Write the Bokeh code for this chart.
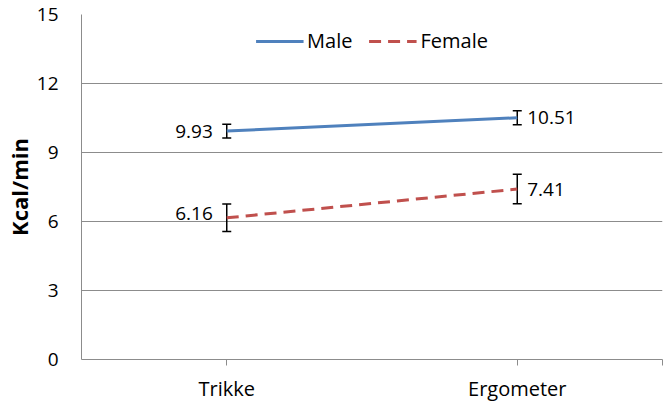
from bokeh.plotting import figure
from bokeh.models import ColumnDataSource, FixedTicker, Whisker, TeeHead, Legend, LegendItem
from bokeh.embed import file_html
from bokeh.resources import INLINE

categories = ["Trikke", "Ergometer"]
male = [9.93, 10.51]
female = [6.16, 7.41]
male_err = [0.3, 0.3]
female_err = [0.6, 0.64]
y_ticks = [0, 3, 6, 9, 12, 15]
y_label = "Kcal/min"

FONT = "Open Sans"
BLUE = "#4F81BD"
RED = "#C0504D"
GRID = "#8c8c8c"

xpos = [i + 0.5 for i in range(len(categories))]

p = figure(width=664, height=404, output_backend="svg", toolbar_location=None,
           x_range=(0, len(categories)), y_range=(y_ticks[0], y_ticks[-1]),
           min_border_left=74, min_border_right=2, min_border_top=14, min_border_bottom=30)
p.outline_line_color = None
p.background_fill_color = "white"
p.border_fill_color = "white"

# axes
p.yaxis.ticker = FixedTicker(ticks=y_ticks)
p.yaxis.major_tick_out = 0
p.yaxis.major_tick_in = 0
p.yaxis.minor_tick_line_color = None
p.yaxis.axis_line_color = GRID
p.yaxis.major_label_standoff = 23
p.yaxis.major_label_text_font = FONT
p.yaxis.major_label_text_font_size = "19px"
p.yaxis.major_label_text_color = "#000000"
p.yaxis.axis_label = y_label
p.yaxis.axis_label_text_font = FONT
p.yaxis.axis_label_text_font_size = "22px"
p.yaxis.axis_label_text_font_style = "bold"
p.yaxis.axis_label_text_color = "#000000"
p.yaxis.axis_label_standoff = 0

overrides = {x: c for x, c in zip(xpos, categories)}
overrides[float(len(categories))] = ""
p.xaxis.ticker = FixedTicker(ticks=xpos + [float(len(categories))])
p.xaxis.major_label_overrides = overrides
p.xaxis.major_tick_out = 6
p.xaxis.major_tick_in = 0
p.xaxis.major_tick_line_color = GRID
p.xaxis.minor_tick_line_color = None
p.xaxis.axis_line_color = GRID
p.xaxis.major_label_standoff = 9
p.xaxis.major_label_text_font = FONT
p.xaxis.major_label_text_font_size = "20px"
p.xaxis.major_label_text_color = "#000000"

p.xgrid.grid_line_color = None
p.ygrid.ticker = FixedTicker(ticks=y_ticks)
p.ygrid.grid_line_color = GRID
p.ygrid.grid_line_width = 1

src = ColumnDataSource(dict(
    x=xpos, male=male, female=female,
    m_lo=[v - e for v, e in zip(male, male_err)], m_hi=[v + e for v, e in zip(male, male_err)],
    f_lo=[v - e for v, e in zip(female, female_err)], f_hi=[v + e for v, e in zip(female, female_err)],
    m_txt=[f"{v:.2f}" for v in male], f_txt=[f"{v:.2f}" for v in female],
))

rm = p.line("x", "male", source=src, line_color=BLUE, line_width=3)
rf = p.line("x", "female", source=src, line_color=RED, line_width=3, line_dash="12 7")

for lo, hi in (("m_lo", "m_hi"), ("f_lo", "f_hi")):
    w = Whisker(source=src, base="x", lower=lo, upper=hi, line_color="black", line_width=1.5,
                upper_head=TeeHead(size=9, line_color="black", line_width=1.5),
                lower_head=TeeHead(size=9, line_color="black", line_width=1.5))
    p.add_layout(w)

# data labels
for i in range(len(categories)):
    left = (i == 0)
    for col, tcol, dy in (("male", "m_txt", 0), ("female", "f_txt", 4 if left else 0)):
        sub = ColumnDataSource(dict(x=[xpos[i]], y=[src.data[col][i]], t=[src.data[tcol][i]]))
        p.text("x", "y", text="t", source=sub,
               text_align="right" if left else "left", text_baseline="middle",
               x_offset=-14 if left else 10, y_offset=-dy,
               text_font={"value": FONT}, text_font_size="19px", text_color="#000000")

legend = Legend(items=[LegendItem(label="Male", renderers=[rm]),
                       LegendItem(label="Female", renderers=[rf])],
                location="top_center", orientation="horizontal")
legend.glyph_width = 48
legend.label_standoff = 4
legend.spacing = 16
legend.padding = 10
legend.margin = 13
legend.border_line_color = None
legend.background_fill_alpha = 0
legend.label_text_font = FONT
legend.label_text_font_size = "20px"
legend.label_text_color = "#000000"
p.add_layout(legend, "center")

open("out.html", "w").write(file_html(p, INLINE))
